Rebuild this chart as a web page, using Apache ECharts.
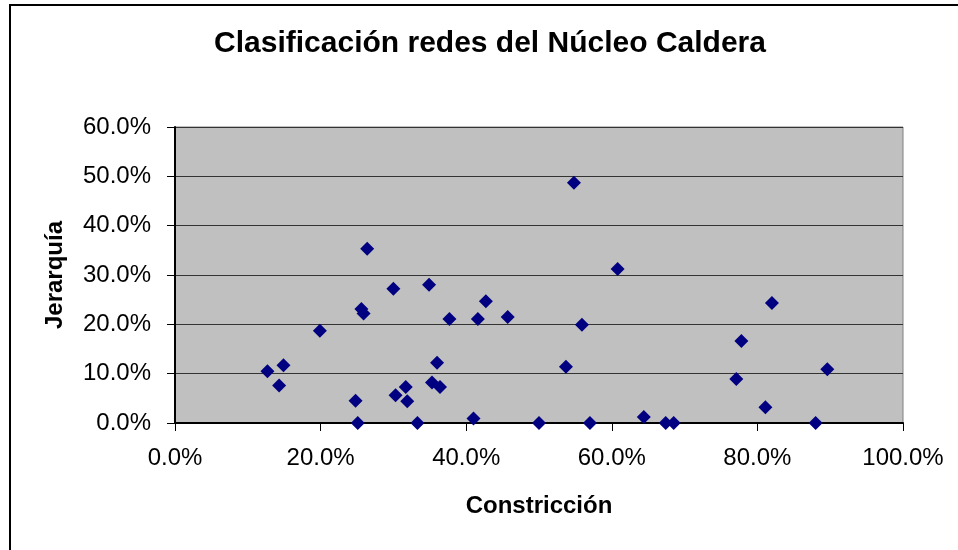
<!DOCTYPE html>
<html>
<head>
<meta charset="utf-8">
<script src="https://cdn.jsdelivr.net/npm/echarts@6/dist/echarts.min.js"></script>
<style>
  html, body { margin: 0; padding: 0; background: #fff; }
  #chart { width: 958px; height: 550px; }
</style>
</head>
<body>
<div id="chart"></div>
<script>
// Constricción (x, %) and Jerarquía (y, %) per network
const constriccion = [12.7, 14.9, 14.3, 19.9, 24.8, 25.1, 25.6, 25.9, 26.4, 30.0, 30.3, 31.7, 31.9, 33.3,
  34.9, 35.3, 36.4, 36.0, 37.7, 41.0, 41.6, 42.7, 45.7, 50.0, 54.8, 53.7, 55.9, 57.0, 60.8, 64.4,
  67.4, 68.5, 77.1, 77.8, 81.1, 82.0, 88.0, 89.6];
const jerarquia = [10.5, 11.7, 7.6, 18.7, 4.5, 0.0, 23.1, 22.2, 35.3, 27.2, 5.6, 7.3, 4.4, 0.0,
  28.0, 8.2, 7.3, 12.2, 21.1, 0.9, 21.1, 24.7, 21.5, 0.0, 48.7, 11.4, 19.9, 0.0, 31.2, 1.2,
  0.0, 0.0, 8.9, 16.6, 3.2, 24.3, 0.0, 10.9];

const points = constriccion.map((x, i) => [x, jerarquia[i]]);
const pct = (v) => v.toFixed(1) + "%";
const font = "'Liberation Sans', Arial, sans-serif";

const chart = echarts.init(document.getElementById("chart"));
chart.setOption({
  animation: false,
  graphic: [
    {
      type: "rect",
      shape: { x: 10, y: 5, width: 980, height: 580 },
      style: { fill: null, stroke: "#000", lineWidth: 2 },
      z: 10,
    },
    {
      type: "text",
      x: 490,
      y: 44,
      style: {
        text: "Clasificación redes del Núcleo Caldera",
        fontFamily: font,
        fontSize: 30,
        fontWeight: "bold",
        fill: "#000",
        textAlign: "center",
        textVerticalAlign: "middle",
      },
    },
  ],
  grid: {
    left: 175,
    right: 55,
    top: 127,
    bottom: 127,
    show: true,
    backgroundColor: "#c0c0c0",
    borderColor: "#808080",
    borderWidth: 1,
  },
  xAxis: {
    type: "value",
    min: 0,
    max: 100,
    interval: 20,
    name: "Constricción",
    nameLocation: "middle",
    nameGap: 71,
    nameTextStyle: { fontFamily: font, fontSize: 24, fontWeight: "bold", color: "#000" },
    axisLine: { show: true, lineStyle: { color: "#000", width: 2 } },
    axisTick: { show: true, length: 8, lineStyle: { color: "#000" } },
    axisLabel: { formatter: pct, fontFamily: font, fontSize: 24, color: "#000", margin: 23 },
    splitLine: { show: false },
  },
  yAxis: {
    type: "value",
    min: 0,
    max: 60,
    interval: 10,
    name: "Jerarquía",
    nameLocation: "middle",
    nameGap: 108,
    nameTextStyle: { fontFamily: font, fontSize: 24, fontWeight: "bold", color: "#000" },
    axisLine: { show: true, lineStyle: { color: "#000", width: 2 } },
    axisTick: { show: true, length: 8, lineStyle: { color: "#000" } },
    axisLabel: { formatter: pct, fontFamily: font, fontSize: 24, color: "#000", margin: 24 },
    splitLine: { show: true, lineStyle: { color: "#333", width: 1 } },
  },
  series: [
    {
      type: "scatter",
      data: points,
      symbol: "diamond",
      symbolSize: 14,
      clip: false,
      itemStyle: { color: "#000080", opacity: 1 },
    },
  ],
});
</script>
</body>
</html>
